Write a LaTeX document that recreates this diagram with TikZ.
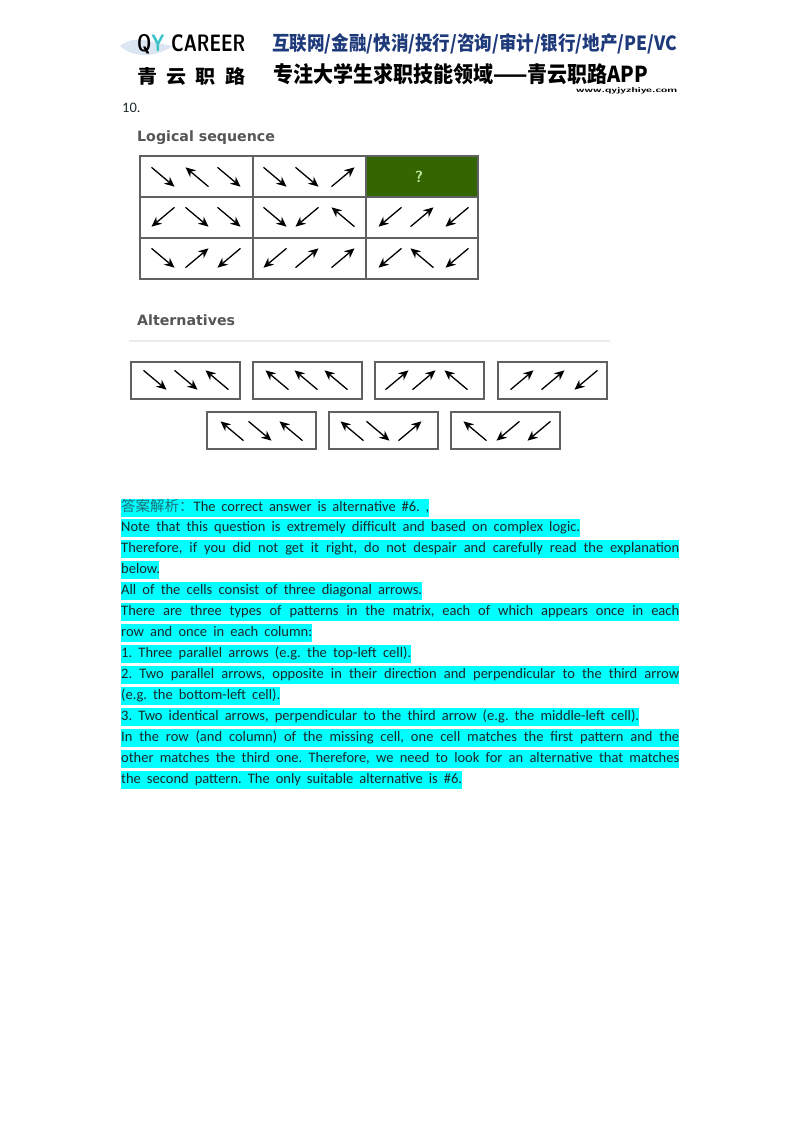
\documentclass[tikz,border=0pt]{standalone}
\usepackage{fontspec}
\usepackage{graphicx}
\setmainfont{Carlito}
\newfontfamily\cjk{Noto Sans CJK SC}
\newfontfamily\labelfont{DejaVu Sans}
\usetikzlibrary{arrows.meta}
\definecolor{headblue}{HTML}{1F3A7A}
\definecolor{cellgreen}{HTML}{336600}
\definecolor{qmark}{HTML}{C5E8A0}
\definecolor{gridgray}{HTML}{606060}
\definecolor{titlegray}{HTML}{555555}
\definecolor{hicyan}{HTML}{00FFFF}
\definecolor{logoY}{HTML}{38C4C8}
\definecolor{swoosh}{HTML}{DCE6F2}
\definecolor{hanteal}{HTML}{1F6F78}
\definecolor{bodyink}{HTML}{1A2A2A}
\newcommand{\dSE}{40}
\newcommand{\dNE}{-40}
\newcommand{\dNW}{220}
\newcommand{\dSW}{140}
\newcommand{\fitbox}[3]{\resizebox{#1pt}{#2pt}{#3}}
\newcommand{\hitext}[2]{\makebox[#1pt][s]{\frenchspacing #2}}
\tikzset{
	hiline/.style={anchor=west,fill=hicyan,text=bodyink,inner sep=0pt,font=\fontsize{14.5}{16}\selectfont,text height=10pt,text depth=3.5pt,minimum height=18pt},
	headtext/.style={anchor=west,inner sep=0pt},
	title/.style={anchor=west,inner sep=0pt,text=titlegray,font=\labelfont\bfseries\fontsize{14.2}{16}\selectfont},
	grid line/.style={draw=gridgray,line width=1.2pt},
	arrowline/.style={line width=1.3pt,-{Stealth[length=10pt,width=9pt]}}
}
\begin{document}
\begin{tikzpicture}[x=1pt,y=-1pt]
	\useasboundingbox (0,0) rectangle (800,1132);

	\fill[swoosh] (120,46) .. controls (135,34) and (150,42) .. (172,46) .. controls (160,56) and (135,60) .. (120,46);
	\node[headtext] (logo) at (137,44.5) {\fitbox{108}{17}{\sffamily\textbf{Q\textcolor{logoY}{Y} CAREER}}};
	\node[headtext,text=headblue] (sectors) at (272,44) {\fitbox{405}{17}{\cjk\bfseries 互联网/金融/快消/投行/咨询/审计/银行/地产/PE/VC}};
	\node[headtext] (brand) at (137,76) {\fitbox{108}{16}{\cjk\bfseries 青\ \ 云\ \ 职\ \ 路}};
	\node[headtext] (slogan) at (273,74) {\fitbox{375}{19}{\cjk\bfseries 专注大学生求职技能领域——青云职路APP}};
	\node[headtext] (site) at (576,91) {\fitbox{101}{5}{\sffamily\bfseries www.qyjyzhiye.com}};

	\node[anchor=west,inner sep=0pt,text=bodyink,font=\fontsize{14.5}{16}\selectfont] (number) at (122,108) {10.};
	\node[title] (logical) at (137,138) {Logical sequence};
	\node[title] (alternatives) at (137,320) {Alternatives};

	\fill[cellgreen] (366,156) rectangle (478,197);
	\node[text=qmark,font=\sffamily\bfseries\fontsize{16}{18}\selectfont] (missing) at (419,177) {?};
	\draw[grid line] (140,156) rectangle (478,279);
	\draw[grid line] (140,197) -- (478,197);
	\draw[grid line] (140,238) -- (478,238);
	\draw[grid line] (253,156) -- (253,279);
	\draw[grid line] (366,156) -- (366,279);

	\foreach \xa/\xb/\xc/\ya/\da/\db/\dc in {
		163/197/229/177/\dSE/\dNW/\dSE,
		275/307/343/177/\dSE/\dSE/\dNE,
		163/197/229/217/\dSW/\dSE/\dSE,
		275/307/343/217/\dSE/\dSW/\dNW,
		390/422/457/217/\dSW/\dNE/\dSW,
		163/197/229/258/\dSE/\dNE/\dSW,
		275/307/343/258/\dSW/\dNE/\dNE,
		390/422/457/258/\dSW/\dNW/\dSW,
		155/186/217/380/\dSE/\dSE/\dNW,
		277/306/336/380/\dNW/\dNW/\dNW,
		397/424/456/380/\dNE/\dNE/\dNW,
		522/553/586/380/\dNE/\dNE/\dSW,
		232/260/291/431/\dNW/\dSE/\dNW,
		352/378/410/431/\dNW/\dSE/\dNE,
		475/508/539/431/\dNW/\dSW/\dSW}{
		\draw[arrowline] (\xa,\ya) ++(\da+180:15) -- ++(\da:30);
		\draw[arrowline] (\xb,\ya) ++(\db+180:15) -- ++(\db:30);
		\draw[arrowline] (\xc,\ya) ++(\dc+180:15) -- ++(\dc:30);
	}

	\draw[gray!15,line width=2pt] (129,341) -- (610,341);
	\foreach \xl/\yl in {131/362,253/362,375/362,498/362,207/412,329/412,451/412}
		\draw[grid line] (\xl,\yl) rectangle ++(109,37);

	\node[hiline] (line1) at (121,508) {\hitext{308}{{\cjk\color{hanteal} 答案解析：}The correct answer is alternative \#6. ,}};
	\node[hiline] (line2) at (121,528) {\hitext{459}{Note that this question is extremely difficult and based on complex logic.}};
	\node[hiline] (line3) at (121,549) {\hitext{558}{Therefore, if you did not get it right, do not despair and carefully read the explanation}};
	\node[hiline] (line4) at (121,570) {\hitext{38}{below.}};
	\node[hiline] (line5) at (121,591) {\hitext{301}{All of the cells consist of three diagonal arrows.}};
	\node[hiline] (line6) at (121,612) {\hitext{558}{There are three types of patterns in the matrix, each of which appears once in each}};
	\node[hiline] (line7) at (121,633) {\hitext{191}{row and once in each column:}};
	\node[hiline] (line8) at (121,654) {\hitext{290}{1. Three parallel arrows (e.g. the top-left cell).}};
	\node[hiline] (line9) at (121,675) {\hitext{558}{2. Two parallel arrows, opposite in their direction and perpendicular to the third arrow}};
	\node[hiline] (line10) at (121,696) {\hitext{159}{(e.g. the bottom-left cell).}};
	\node[hiline] (line11) at (121,717) {\hitext{518}{3. Two identical arrows, perpendicular to the third arrow (e.g. the middle-left cell).}};
	\node[hiline] (line12) at (121,738) {\hitext{558}{In the row (and column) of the missing cell, one cell matches the first pattern and the}};
	\node[hiline] (line13) at (121,759) {\hitext{558}{other matches the third one. Therefore, we need to look for an alternative that matches}};
	\node[hiline] (line14) at (121,780) {\hitext{341}{the second pattern. The only suitable alternative is \#6.}};
\end{tikzpicture}
\end{document}
